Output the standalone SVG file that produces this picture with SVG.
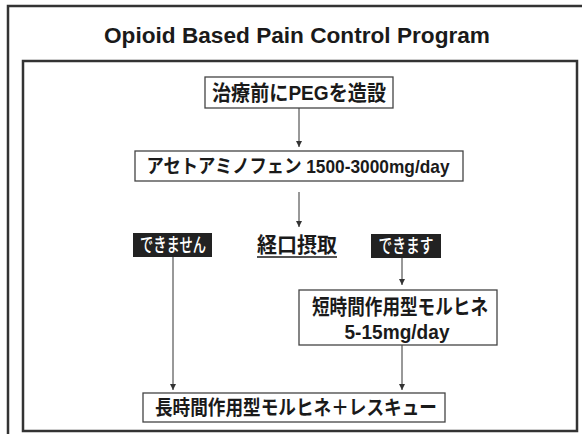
<svg xmlns="http://www.w3.org/2000/svg" width="582" height="434" viewBox="0 0 582 434">
<defs>
<style>
.frame{fill:none;stroke:#333;stroke-width:2.5}
.box{fill:#fff;stroke:#444;stroke-width:1.3}
.dark{fill:#222;stroke:none}
.t{font-family:"Liberation Sans","Noto Sans CJK JP",sans-serif;font-weight:bold;fill:#1a1a1a;text-anchor:middle}
.w{font-family:"Noto Sans CJK JP","Liberation Sans",sans-serif;font-weight:500;fill:#fff;text-anchor:middle;font-size:19px}
.c{fill:none;stroke:#333;stroke-width:1}
</style>
<marker id="ah" viewBox="0 0 6 6" refX="6" refY="3" markerWidth="6" markerHeight="6" markerUnits="userSpaceOnUse" orient="auto">
<path d="M0,0 L6,3 L0,6 Z" fill="#333"/>
</marker>
</defs>
<rect width="582" height="434" fill="#fff"/>
<rect class="frame" x="8" y="6" width="590" height="440"/>
<text class="t" x="297" y="43" font-size="22" textLength="386" lengthAdjust="spacingAndGlyphs">Opioid Based Pain Control Program</text>
<rect class="frame" x="23" y="61" width="554" height="370"/>
<g id="connectors">
<line class="c" x1="299" y1="108" x2="299" y2="147" marker-end="url(#ah)"/>
<line class="c" x1="299" y1="192" x2="299" y2="227" marker-end="url(#ah)"/>
<line class="c" x1="173" y1="257" x2="173" y2="390" marker-end="url(#ah)"/>
<line class="c" x1="402" y1="258" x2="402" y2="285" marker-end="url(#ah)"/>
<line class="c" x1="402" y1="345" x2="402" y2="390" marker-end="url(#ah)"/>
</g>
<g id="peg">
<rect class="box" x="205" y="77" width="188" height="31"/>
<text class="t" x="299" y="100" font-size="21" textLength="174" lengthAdjust="spacingAndGlyphs">治療前にPEGを造設</text>
</g>
<g id="acet">
<rect class="box" x="135" y="151" width="328" height="30"/>
<text class="t" x="298" y="173" font-size="19" textLength="303" lengthAdjust="spacingAndGlyphs">アセトアミノフェン 1500-3000mg/day</text>
</g>
<g id="cannot">
<rect class="dark" x="133" y="233" width="79" height="24"/>
<text class="w" x="173" y="252" textLength="66" lengthAdjust="spacingAndGlyphs">できません</text>
</g>
<g id="oral">
<text class="t" x="297" y="252" font-size="21" textLength="80" lengthAdjust="spacingAndGlyphs">経口摂取</text>
<line x1="257" y1="257" x2="337" y2="257" stroke="#1a1a1a" stroke-width="1.5"/>
</g>
<g id="can">
<rect class="dark" x="371" y="234" width="70" height="24"/>
<text class="w" x="406" y="253" textLength="55" lengthAdjust="spacingAndGlyphs">できます</text>
</g>
<g id="short">
<rect class="box" x="299" y="290" width="198" height="55"/>
<text class="t" x="400" y="314" font-size="21" textLength="176" lengthAdjust="spacingAndGlyphs">短時間作用型モルヒネ</text>
<text class="t" x="397" y="339" font-size="21" textLength="105" lengthAdjust="spacingAndGlyphs">5-15mg/day</text>
</g>
<g id="long">
<rect class="box" x="143" y="393" width="302" height="29"/>
<text class="t" x="296" y="415" font-size="20" textLength="282" lengthAdjust="spacingAndGlyphs">長時間作用型モルヒネ＋レスキュー</text>
</g>
</svg>
